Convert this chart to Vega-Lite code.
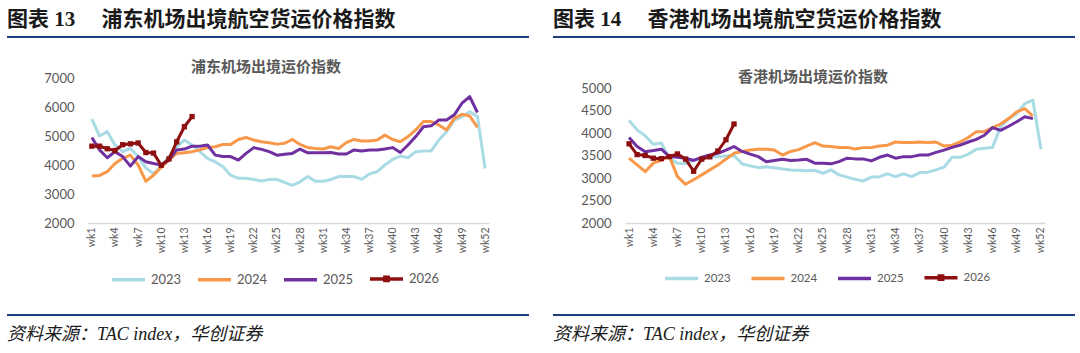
{
  "$schema": "https://vega.github.io/schema/vega-lite/v6.json",
  "background": "white",
  "padding": {"left": 7, "top": 9, "right": 0, "bottom": 0},
  "spacing": 24,
  "resolve": {"scale": {"color": "independent"}, "legend": {"color": "independent"}},
  "datasets": {
    "pudong": [
      {"week":"wk1","year":"2023","value":5580},{"week":"wk2","year":"2023","value":5000},{"week":"wk3","year":"2023","value":5150},{"week":"wk4","year":"2023","value":4690},{"week":"wk5","year":"2023","value":4460},{"week":"wk6","year":"2023","value":4570},{"week":"wk7","year":"2023","value":4290},{"week":"wk8","year":"2023","value":3900},{"week":"wk9","year":"2023","value":3700},{"week":"wk10","year":"2023","value":3950},{"week":"wk11","year":"2023","value":4290},{"week":"wk12","year":"2023","value":4630},{"week":"wk13","year":"2023","value":4860},{"week":"wk14","year":"2023","value":4690},{"week":"wk15","year":"2023","value":4460},{"week":"wk16","year":"2023","value":4230},{"week":"wk17","year":"2023","value":4110},{"week":"wk18","year":"2023","value":3940},{"week":"wk19","year":"2023","value":3650},{"week":"wk20","year":"2023","value":3540},{"week":"wk21","year":"2023","value":3540},{"week":"wk22","year":"2023","value":3500},{"week":"wk23","year":"2023","value":3450},{"week":"wk24","year":"2023","value":3500},{"week":"wk25","year":"2023","value":3500},{"week":"wk26","year":"2023","value":3400},{"week":"wk27","year":"2023","value":3300},{"week":"wk28","year":"2023","value":3420},{"week":"wk29","year":"2023","value":3600},{"week":"wk30","year":"2023","value":3440},{"week":"wk31","year":"2023","value":3440},{"week":"wk32","year":"2023","value":3500},{"week":"wk33","year":"2023","value":3600},{"week":"wk34","year":"2023","value":3600},{"week":"wk35","year":"2023","value":3600},{"week":"wk36","year":"2023","value":3510},{"week":"wk37","year":"2023","value":3690},{"week":"wk38","year":"2023","value":3770},{"week":"wk39","year":"2023","value":4000},{"week":"wk40","year":"2023","value":4190},{"week":"wk41","year":"2023","value":4310},{"week":"wk42","year":"2023","value":4250},{"week":"wk43","year":"2023","value":4460},{"week":"wk44","year":"2023","value":4480},{"week":"wk45","year":"2023","value":4490},{"week":"wk46","year":"2023","value":4860},{"week":"wk47","year":"2023","value":5150},{"week":"wk48","year":"2023","value":5550},{"week":"wk49","year":"2023","value":5670},{"week":"wk50","year":"2023","value":5840},{"week":"wk51","year":"2023","value":5670},{"week":"wk52","year":"2023","value":3880},
      {"week":"wk1","year":"2024","value":3620},{"week":"wk2","year":"2024","value":3640},{"week":"wk3","year":"2024","value":3770},{"week":"wk4","year":"2024","value":4050},{"week":"wk5","year":"2024","value":4230},{"week":"wk6","year":"2024","value":4340},{"week":"wk7","year":"2024","value":4000},{"week":"wk8","year":"2024","value":3440},{"week":"wk9","year":"2024","value":3650},{"week":"wk10","year":"2024","value":3920},{"week":"wk11","year":"2024","value":4170},{"week":"wk12","year":"2024","value":4400},{"week":"wk13","year":"2024","value":4420},{"week":"wk14","year":"2024","value":4460},{"week":"wk15","year":"2024","value":4520},{"week":"wk16","year":"2024","value":4600},{"week":"wk17","year":"2024","value":4630},{"week":"wk18","year":"2024","value":4710},{"week":"wk19","year":"2024","value":4710},{"week":"wk20","year":"2024","value":4880},{"week":"wk21","year":"2024","value":4950},{"week":"wk22","year":"2024","value":4860},{"week":"wk23","year":"2024","value":4800},{"week":"wk24","year":"2024","value":4770},{"week":"wk25","year":"2024","value":4720},{"week":"wk26","year":"2024","value":4750},{"week":"wk27","year":"2024","value":4880},{"week":"wk28","year":"2024","value":4710},{"week":"wk29","year":"2024","value":4600},{"week":"wk30","year":"2024","value":4570},{"week":"wk31","year":"2024","value":4550},{"week":"wk32","year":"2024","value":4630},{"week":"wk33","year":"2024","value":4570},{"week":"wk34","year":"2024","value":4770},{"week":"wk35","year":"2024","value":4880},{"week":"wk36","year":"2024","value":4830},{"week":"wk37","year":"2024","value":4830},{"week":"wk38","year":"2024","value":4860},{"week":"wk39","year":"2024","value":5030},{"week":"wk40","year":"2024","value":4880},{"week":"wk41","year":"2024","value":4800},{"week":"wk42","year":"2024","value":4980},{"week":"wk43","year":"2024","value":5210},{"week":"wk44","year":"2024","value":5500},{"week":"wk45","year":"2024","value":5500},{"week":"wk46","year":"2024","value":5380},{"week":"wk47","year":"2024","value":5210},{"week":"wk48","year":"2024","value":5610},{"week":"wk49","year":"2024","value":5750},{"week":"wk50","year":"2024","value":5690},{"week":"wk51","year":"2024","value":5300},
      {"week":"wk1","year":"2025","value":4950},{"week":"wk2","year":"2025","value":4520},{"week":"wk3","year":"2025","value":4250},{"week":"wk4","year":"2025","value":4460},{"week":"wk5","year":"2025","value":4290},{"week":"wk6","year":"2025","value":3960},{"week":"wk7","year":"2025","value":4290},{"week":"wk8","year":"2025","value":4110},{"week":"wk9","year":"2025","value":4050},{"week":"wk10","year":"2025","value":4000},{"week":"wk11","year":"2025","value":4170},{"week":"wk12","year":"2025","value":4520},{"week":"wk13","year":"2025","value":4550},{"week":"wk14","year":"2025","value":4650},{"week":"wk15","year":"2025","value":4650},{"week":"wk16","year":"2025","value":4690},{"week":"wk17","year":"2025","value":4340},{"week":"wk18","year":"2025","value":4290},{"week":"wk19","year":"2025","value":4290},{"week":"wk20","year":"2025","value":4170},{"week":"wk21","year":"2025","value":4400},{"week":"wk22","year":"2025","value":4600},{"week":"wk23","year":"2025","value":4540},{"week":"wk24","year":"2025","value":4460},{"week":"wk25","year":"2025","value":4340},{"week":"wk26","year":"2025","value":4370},{"week":"wk27","year":"2025","value":4400},{"week":"wk28","year":"2025","value":4550},{"week":"wk29","year":"2025","value":4420},{"week":"wk30","year":"2025","value":4420},{"week":"wk31","year":"2025","value":4420},{"week":"wk32","year":"2025","value":4430},{"week":"wk33","year":"2025","value":4380},{"week":"wk34","year":"2025","value":4380},{"week":"wk35","year":"2025","value":4520},{"week":"wk36","year":"2025","value":4480},{"week":"wk37","year":"2025","value":4520},{"week":"wk38","year":"2025","value":4520},{"week":"wk39","year":"2025","value":4550},{"week":"wk40","year":"2025","value":4600},{"week":"wk41","year":"2025","value":4430},{"week":"wk42","year":"2025","value":4690},{"week":"wk43","year":"2025","value":4980},{"week":"wk44","year":"2025","value":5320},{"week":"wk45","year":"2025","value":5350},{"week":"wk46","year":"2025","value":5550},{"week":"wk47","year":"2025","value":5550},{"week":"wk48","year":"2025","value":5730},{"week":"wk49","year":"2025","value":6130},{"week":"wk50","year":"2025","value":6360},{"week":"wk51","year":"2025","value":5810},
      {"week":"wk1","year":"2026","value":4650},{"week":"wk2","year":"2026","value":4650},{"week":"wk3","year":"2026","value":4560},{"week":"wk4","year":"2026","value":4500},{"week":"wk5","year":"2026","value":4700},{"week":"wk6","year":"2026","value":4730},{"week":"wk7","year":"2026","value":4760},{"week":"wk8","year":"2026","value":4430},{"week":"wk9","year":"2026","value":4410},{"week":"wk10","year":"2026","value":3990},{"week":"wk11","year":"2026","value":4210},{"week":"wk12","year":"2026","value":4800},{"week":"wk13","year":"2026","value":5320},{"week":"wk14","year":"2026","value":5670}
    ],
    "hongkong": [
      {"week":"wk1","year":"2023","value":4280},{"week":"wk2","year":"2023","value":4070},{"week":"wk3","year":"2023","value":3940},{"week":"wk4","year":"2023","value":3750},{"week":"wk5","year":"2023","value":3780},{"week":"wk6","year":"2023","value":3430},{"week":"wk7","year":"2023","value":3330},{"week":"wk8","year":"2023","value":3320},{"week":"wk9","year":"2023","value":3400},{"week":"wk10","year":"2023","value":3440},{"week":"wk11","year":"2023","value":3470},{"week":"wk12","year":"2023","value":3470},{"week":"wk13","year":"2023","value":3490},{"week":"wk14","year":"2023","value":3500},{"week":"wk15","year":"2023","value":3310},{"week":"wk16","year":"2023","value":3270},{"week":"wk17","year":"2023","value":3230},{"week":"wk18","year":"2023","value":3250},{"week":"wk19","year":"2023","value":3230},{"week":"wk20","year":"2023","value":3200},{"week":"wk21","year":"2023","value":3180},{"week":"wk22","year":"2023","value":3170},{"week":"wk23","year":"2023","value":3160},{"week":"wk24","year":"2023","value":3170},{"week":"wk25","year":"2023","value":3105},{"week":"wk26","year":"2023","value":3180},{"week":"wk27","year":"2023","value":3070},{"week":"wk28","year":"2023","value":3020},{"week":"wk29","year":"2023","value":2970},{"week":"wk30","year":"2023","value":2935},{"week":"wk31","year":"2023","value":3020},{"week":"wk32","year":"2023","value":3030},{"week":"wk33","year":"2023","value":3090},{"week":"wk34","year":"2023","value":3030},{"week":"wk35","year":"2023","value":3090},{"week":"wk36","year":"2023","value":3030},{"week":"wk37","year":"2023","value":3120},{"week":"wk38","year":"2023","value":3130},{"week":"wk39","year":"2023","value":3180},{"week":"wk40","year":"2023","value":3240},{"week":"wk41","year":"2023","value":3460},{"week":"wk42","year":"2023","value":3460},{"week":"wk43","year":"2023","value":3530},{"week":"wk44","year":"2023","value":3640},{"week":"wk45","year":"2023","value":3660},{"week":"wk46","year":"2023","value":3680},{"week":"wk47","year":"2023","value":4140},{"week":"wk48","year":"2023","value":4320},{"week":"wk49","year":"2023","value":4430},{"week":"wk50","year":"2023","value":4655},{"week":"wk51","year":"2023","value":4730},{"week":"wk52","year":"2023","value":3640},
      {"week":"wk1","year":"2024","value":3440},{"week":"wk2","year":"2024","value":3290},{"week":"wk3","year":"2024","value":3140},{"week":"wk4","year":"2024","value":3330},{"week":"wk5","year":"2024","value":3400},{"week":"wk6","year":"2024","value":3475},{"week":"wk7","year":"2024","value":3030},{"week":"wk8","year":"2024","value":2860},{"week":"wk9","year":"2024","value":2960},{"week":"wk10","year":"2024","value":3070},{"week":"wk11","year":"2024","value":3180},{"week":"wk12","year":"2024","value":3290},{"week":"wk13","year":"2024","value":3420},{"week":"wk14","year":"2024","value":3550},{"week":"wk15","year":"2024","value":3590},{"week":"wk16","year":"2024","value":3620},{"week":"wk17","year":"2024","value":3640},{"week":"wk18","year":"2024","value":3640},{"week":"wk19","year":"2024","value":3620},{"week":"wk20","year":"2024","value":3510},{"week":"wk21","year":"2024","value":3590},{"week":"wk22","year":"2024","value":3630},{"week":"wk23","year":"2024","value":3710},{"week":"wk24","year":"2024","value":3785},{"week":"wk25","year":"2024","value":3710},{"week":"wk26","year":"2024","value":3700},{"week":"wk27","year":"2024","value":3680},{"week":"wk28","year":"2024","value":3680},{"week":"wk29","year":"2024","value":3645},{"week":"wk30","year":"2024","value":3675},{"week":"wk31","year":"2024","value":3680},{"week":"wk32","year":"2024","value":3710},{"week":"wk33","year":"2024","value":3730},{"week":"wk34","year":"2024","value":3800},{"week":"wk35","year":"2024","value":3790},{"week":"wk36","year":"2024","value":3790},{"week":"wk37","year":"2024","value":3800},{"week":"wk38","year":"2024","value":3790},{"week":"wk39","year":"2024","value":3800},{"week":"wk40","year":"2024","value":3710},{"week":"wk41","year":"2024","value":3730},{"week":"wk42","year":"2024","value":3800},{"week":"wk43","year":"2024","value":3900},{"week":"wk44","year":"2024","value":4030},{"week":"wk45","year":"2024","value":4030},{"week":"wk46","year":"2024","value":4120},{"week":"wk47","year":"2024","value":4200},{"week":"wk48","year":"2024","value":4320},{"week":"wk49","year":"2024","value":4470},{"week":"wk50","year":"2024","value":4540},{"week":"wk51","year":"2024","value":4375},
      {"week":"wk1","year":"2025","value":3900},{"week":"wk2","year":"2025","value":3700},{"week":"wk3","year":"2025","value":3585},{"week":"wk4","year":"2025","value":3610},{"week":"wk5","year":"2025","value":3640},{"week":"wk6","year":"2025","value":3475},{"week":"wk7","year":"2025","value":3460},{"week":"wk8","year":"2025","value":3440},{"week":"wk9","year":"2025","value":3390},{"week":"wk10","year":"2025","value":3460},{"week":"wk11","year":"2025","value":3510},{"week":"wk12","year":"2025","value":3550},{"week":"wk13","year":"2025","value":3620},{"week":"wk14","year":"2025","value":3700},{"week":"wk15","year":"2025","value":3590},{"week":"wk16","year":"2025","value":3530},{"week":"wk17","year":"2025","value":3475},{"week":"wk18","year":"2025","value":3360},{"week":"wk19","year":"2025","value":3390},{"week":"wk20","year":"2025","value":3415},{"week":"wk21","year":"2025","value":3390},{"week":"wk22","year":"2025","value":3400},{"week":"wk23","year":"2025","value":3415},{"week":"wk24","year":"2025","value":3330},{"week":"wk25","year":"2025","value":3330},{"week":"wk26","year":"2025","value":3315},{"week":"wk27","year":"2025","value":3365},{"week":"wk28","year":"2025","value":3440},{"week":"wk29","year":"2025","value":3425},{"week":"wk30","year":"2025","value":3425},{"week":"wk31","year":"2025","value":3380},{"week":"wk32","year":"2025","value":3460},{"week":"wk33","year":"2025","value":3510},{"week":"wk34","year":"2025","value":3440},{"week":"wk35","year":"2025","value":3475},{"week":"wk36","year":"2025","value":3475},{"week":"wk37","year":"2025","value":3510},{"week":"wk38","year":"2025","value":3510},{"week":"wk39","year":"2025","value":3570},{"week":"wk40","year":"2025","value":3620},{"week":"wk41","year":"2025","value":3680},{"week":"wk42","year":"2025","value":3730},{"week":"wk43","year":"2025","value":3800},{"week":"wk44","year":"2025","value":3860},{"week":"wk45","year":"2025","value":3950},{"week":"wk46","year":"2025","value":4120},{"week":"wk47","year":"2025","value":4060},{"week":"wk48","year":"2025","value":4150},{"week":"wk49","year":"2025","value":4250},{"week":"wk50","year":"2025","value":4360},{"week":"wk51","year":"2025","value":4320},
      {"week":"wk1","year":"2026","value":3760},{"week":"wk2","year":"2026","value":3520},{"week":"wk3","year":"2026","value":3500},{"week":"wk4","year":"2026","value":3440},{"week":"wk5","year":"2026","value":3430},{"week":"wk6","year":"2026","value":3475},{"week":"wk7","year":"2026","value":3535},{"week":"wk8","year":"2026","value":3420},{"week":"wk9","year":"2026","value":3150},{"week":"wk10","year":"2026","value":3420},{"week":"wk11","year":"2026","value":3470},{"week":"wk12","year":"2026","value":3600},{"week":"wk13","year":"2026","value":3850},{"week":"wk14","year":"2026","value":4200}
    ]
  },
  "hconcat": [
    {
      "spacing": 22,
      "resolve": {"scale": {"color": "independent"}, "legend": {"color": "independent"}},
      "vconcat": [
        {
          "width": 522, "height": 2,
          "data": {"values": []},
          "mark": "point", "encoding": {},
          "view": {"fill": "#1C3F7C", "stroke": null},
          "title": {"text": "图表 13\u3000 浦东机场出境航空货运价格指数", "anchor": "start", "frame": "group", "font": "Liberation Serif, Noto Sans CJK SC", "fontSize": 21, "fontWeight": "bold", "color": "#1a1a1a", "offset": 6}
        },
        {
          "width": 522, "height": 145,
          "data": {"name": "pudong"},
          "title": {"text": "浦东机场出境运价指数", "anchor": "middle", "frame": "group", "dx": -2, "font": "Noto Sans CJK SC", "fontSize": 15, "fontWeight": "bold", "color": "#595959", "offset": -3},
          "encoding": {
            "x": {"field": "week", "type": "ordinal", "sort": null,
                  "scale": {"type": "point", "padding": 0.5, "range": [81, 482], "domain": ["wk1","wk2","wk3","wk4","wk5","wk6","wk7","wk8","wk9","wk10","wk11","wk12","wk13","wk14","wk15","wk16","wk17","wk18","wk19","wk20","wk21","wk22","wk23","wk24","wk25","wk26","wk27","wk28","wk29","wk30","wk31","wk32","wk33","wk34","wk35","wk36","wk37","wk38","wk39","wk40","wk41","wk42","wk43","wk44","wk45","wk46","wk47","wk48","wk49","wk50","wk51","wk52"]},
                  "axis": {"values": ["wk1","wk4","wk7","wk10","wk13","wk16","wk19","wk22","wk25","wk28","wk31","wk34","wk37","wk40","wk43","wk46","wk49","wk52"], "labelAngle": -90, "labelFontSize": 10.5, "labelPadding": 4, "labelOverlap": false, "domainColor": "#D9D9D9", "domainWidth": 1.5, "ticks": false, "title": null}},
            "y": {"field": "value", "type": "quantitative",
                  "scale": {"domain": [2000, 7000]},
                  "axis": {"values": [2000,3000,4000,5000,6000,7000], "format": "d", "offset": -81, "labelOverlap": false, "domain": false, "ticks": false, "grid": false, "labelFontSize": 13, "labelPadding": 14, "title": null}},
            "color": {"field": "year", "type": "nominal",
                      "scale": {"domain": ["2023","2024","2025","2026"], "range": ["#A9DBE5","#F8984A","#7030A0","#8E0F10"]},
                      "legend": {"title": null, "orient": "none", "direction": "horizontal", "legendX": 99, "legendY": 178, "padding": 4, "symbolType": "stroke", "symbolStrokeWidth": 3.5, "symbolSize": 1089, "labelFontSize": 13, "labelColor": "#595959", "labelOffset": 4, "columnPadding": 9,
                                 "encode": {"symbols": {"update": {"shape": {"signal": "datum.value === '2026' ? 'M-1,0H1M-0.1,-0.1H0.1V0.1H-0.1Z' : 'stroke'"}, "fill": {"signal": "datum.value === '2026' ? '#8E0F10' : 'transparent'"}}}}}}
          },
          "layer": [
            {"mark": {"type": "line", "strokeWidth": 3, "strokeJoin": "round"}},
            {"transform": [{"filter": "datum.year == '2026'"}], "mark": {"type": "square", "size": 28, "opacity": 1, "filled": true}}
          ]
        },
        {
          "width": 522, "height": 2,
          "data": {"values": []},
          "mark": "point", "encoding": {},
          "view": {"fill": "#1C3F7C", "stroke": null},
          "title": {"text": "资料来源：TAC index，华创证券", "orient": "bottom", "anchor": "start", "frame": "group", "font": "Liberation Serif, Noto Sans CJK SC", "fontSize": 18, "fontStyle": "italic", "fontWeight": "normal", "color": "#1a1a1a", "offset": 10}
        }
      ]
    },
    {
      "spacing": 25,
      "resolve": {"scale": {"color": "independent"}, "legend": {"color": "independent"}},
      "vconcat": [
        {
          "width": 522, "height": 2,
          "data": {"values": []},
          "mark": "point", "encoding": {},
          "view": {"fill": "#1C3F7C", "stroke": null},
          "title": {"text": "图表 14\u3000 香港机场出境航空货运价格指数", "anchor": "start", "frame": "group", "font": "Liberation Serif, Noto Sans CJK SC", "fontSize": 21, "fontWeight": "bold", "color": "#1a1a1a", "offset": 6}
        },
        {
          "width": 522, "height": 135,
          "data": {"name": "hongkong"},
          "title": {"text": ["", "香港机场出境运价指数"], "lineHeight": 7, "anchor": "middle", "frame": "group", "dx": -1, "font": "Noto Sans CJK SC", "fontSize": 15, "fontWeight": "bold", "color": "#595959", "offset": -3},
          "encoding": {
            "x": {"field": "week", "type": "ordinal", "sort": null,
                  "scale": {"type": "point", "padding": 0.5, "range": [72, 492], "domain": ["wk1","wk2","wk3","wk4","wk5","wk6","wk7","wk8","wk9","wk10","wk11","wk12","wk13","wk14","wk15","wk16","wk17","wk18","wk19","wk20","wk21","wk22","wk23","wk24","wk25","wk26","wk27","wk28","wk29","wk30","wk31","wk32","wk33","wk34","wk35","wk36","wk37","wk38","wk39","wk40","wk41","wk42","wk43","wk44","wk45","wk46","wk47","wk48","wk49","wk50","wk51","wk52"]},
                  "axis": {"values": ["wk1","wk4","wk7","wk10","wk13","wk16","wk19","wk22","wk25","wk28","wk31","wk34","wk37","wk40","wk43","wk46","wk49","wk52"], "labelAngle": -90, "labelFontSize": 10.5, "labelPadding": 4, "labelOverlap": false, "domainColor": "#D9D9D9", "domainWidth": 1.5, "ticks": false, "title": null}},
            "y": {"field": "value", "type": "quantitative",
                  "scale": {"domain": [2000, 5000]},
                  "axis": {"values": [2000,2500,3000,3500,4000,4500,5000], "format": "d", "offset": -72, "labelOverlap": false, "domain": false, "ticks": false, "grid": false, "labelFontSize": 13, "labelPadding": 14, "title": null}},
            "color": {"field": "year", "type": "nominal",
                      "scale": {"domain": ["2023","2024","2025","2026"], "range": ["#A9DBE5","#F8984A","#7030A0","#8E0F10"]},
                      "legend": {"title": null, "orient": "none", "direction": "horizontal", "legendX": 114.5, "legendY": 175.5, "padding": 2, "symbolType": "stroke", "symbolStrokeWidth": 3.5, "symbolSize": 400, "labelFontSize": 11.5, "labelColor": "#595959", "labelOffset": 10.5, "columnPadding": 12.5,
                                 "encode": {"symbols": {"update": {"shape": {"signal": "datum.value === '2026' ? 'M-1.65,0H1.65M-0.17,-0.17H0.17V0.17H-0.17Z' : 'M-1.65,0H1.65'"}, "fill": {"signal": "datum.value === '2026' ? '#8E0F10' : 'transparent'"}}}}}}
          },
          "layer": [
            {"mark": {"type": "line", "strokeWidth": 3, "strokeJoin": "round"}},
            {"transform": [{"filter": "datum.year == '2026'"}], "mark": {"type": "square", "size": 28, "opacity": 1, "filled": true}}
          ]
        },
        {
          "width": 522, "height": 2,
          "data": {"values": []},
          "mark": "point", "encoding": {},
          "view": {"fill": "#1C3F7C", "stroke": null},
          "title": {"text": "资料来源：TAC index，华创证券", "orient": "bottom", "anchor": "start", "frame": "group", "font": "Liberation Serif, Noto Sans CJK SC", "fontSize": 18, "fontStyle": "italic", "fontWeight": "normal", "color": "#1a1a1a", "offset": 10}
        }
      ]
    }
  ],
  "config": {
    "view": {"stroke": null},
    "font": "Lato",
    "axis": {"labelFont": "Lato", "labelColor": "#595959", "labelOverlap": false},
    "axisY": {"labelOverlap": false},
    "legend": {"labelFont": "Lato"}
  }
}
